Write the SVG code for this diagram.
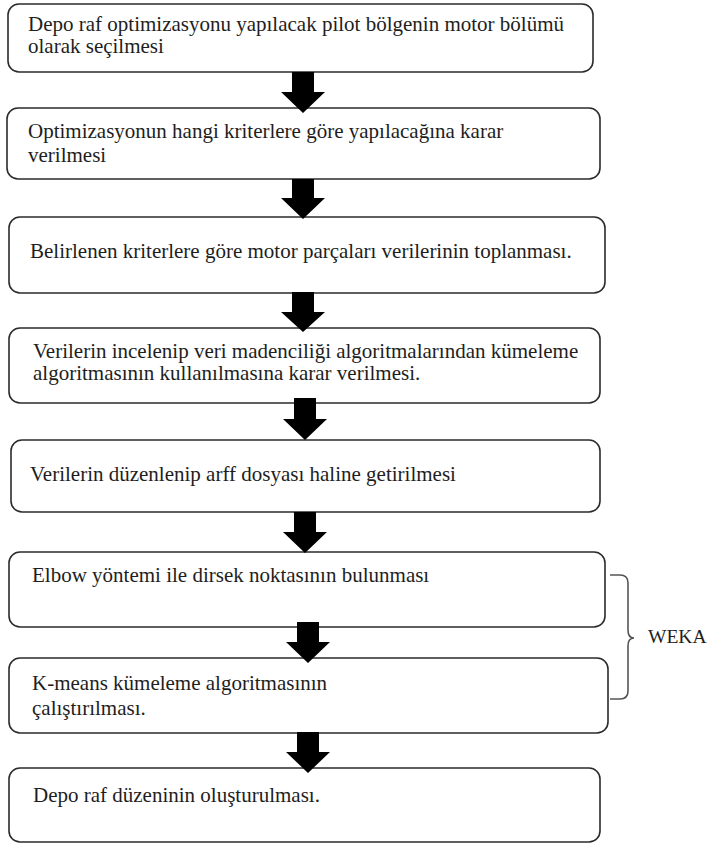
<svg xmlns="http://www.w3.org/2000/svg" width="708" height="846" viewBox="0 0 708 846">
<defs>
<style>
.box{fill:#fff;stroke:#2b2b2b;stroke-width:1.6}
.t{font-family:"Liberation Serif","Times New Roman",serif;font-size:21px;fill:#1e1e1e}
.arr{fill:#000}
.brace{fill:none;stroke:#555;stroke-width:1.6}
</style>
</defs>
<rect width="708" height="846" fill="#fff"/>
<g id="n1"><rect class="box" x="8" y="4" width="585" height="68" rx="11"/>
<text class="t" x="28" y="31">Depo raf optimizasyonu yapılacak pilot bölgenin motor bölümü</text>
<text class="t" x="28" y="53">olarak seçilmesi</text></g>
<g id="n2"><rect class="box" x="7" y="108" width="593" height="71" rx="11"/>
<text class="t" x="28" y="138">Optimizasyonun hangi kriterlere göre yapılacağına karar</text>
<text class="t" x="28" y="162">verilmesi</text></g>
<g id="n3"><rect class="box" x="9" y="217" width="596" height="76" rx="11"/>
<text class="t" x="30" y="258">Belirlenen kriterlere göre motor parçaları verilerinin toplanması.</text></g>
<g id="n4"><rect class="box" x="9" y="328" width="591" height="75" rx="11"/>
<text class="t" x="33" y="358">Verilerin incelenip veri madenciliği algoritmalarından kümeleme</text>
<text class="t" x="33" y="380">algoritmasının kullanılmasına karar verilmesi.</text></g>
<g id="n5"><rect class="box" x="11" y="440" width="589" height="72" rx="11"/>
<text class="t" x="30" y="481">Verilerin düzenlenip arff dosyası haline getirilmesi</text></g>
<g id="n6"><rect class="box" x="9" y="552" width="596" height="75" rx="11"/>
<text class="t" x="32" y="582">Elbow yöntemi ile dirsek noktasının bulunması</text></g>
<g id="n7"><rect class="box" x="9" y="658" width="599" height="75" rx="11"/>
<text class="t" x="32" y="690">K-means kümeleme algoritmasının</text>
<text class="t" x="32" y="715">çalıştırılması.</text></g>
<g id="n8"><rect class="box" x="9" y="768" width="591" height="74" rx="11"/>
<text class="t" x="33" y="802">Depo raf düzeninin oluşturulması.</text></g>
<g id="weka">
<path class="brace" d="M610,575 L620,575 Q628,575 628,583 L628,630 Q628,638 634,638 Q628,638 628,646 L628,691 Q628,699 620,699 L610,699"/>
<text class="t" x="648" y="643" style="font-size:19.5px">WEKA</text>
</g>
<g id="connectors">
<polygon class="arr" points="292,72 314,72 314,92 325,92 303,113 281,92 292,92"/>
<polygon class="arr" points="292,179 314,179 314,198 325,198 303,219 281,198 292,198"/>
<polygon class="arr" points="292,292 314,292 314,312 325,312 303,332 281,312 292,312"/>
<polygon class="arr" points="294,398 316,398 316,419 327,419 305,440 283,419 294,419"/>
<polygon class="arr" points="294,512 316,512 316,532 327,532 305,553 283,532 294,532"/>
<polygon class="arr" points="297,622 319,622 319,642 330,642 308,663 286,642 297,642"/>
<polygon class="arr" points="297,732 319,732 319,752 330,752 308,773 286,752 297,752"/>
</g>
</svg>
